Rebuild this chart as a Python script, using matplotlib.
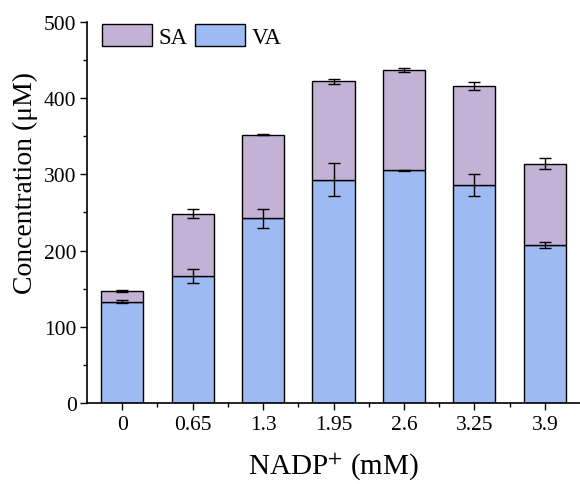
import numpy as np
import matplotlib
matplotlib.use("Agg")
from matplotlib import pyplot as plt
from matplotlib.ticker import MultipleLocator, FixedLocator

plt.rcParams['font.family'] = ['Liberation Serif', 'DejaVu Serif']
plt.rcParams['mathtext.fontset'] = 'stix'

labels = ['0', '0.65', '1.3', '1.95', '2.6', '3.25', '3.9']
va = [133, 167, 242, 293, 305, 286, 207]
va_err = [2, 9, 12, 22, 1, 15, 4]
total = [147, 248, 352, 422, 437, 416, 314]
total_err = [1, 6, 1, 3, 3, 5, 7]
sa = [t - v for t, v in zip(total, va)]

fig = plt.figure(figsize=(5.8, 4.85), dpi=100)
ax = fig.add_axes([0.15, 0.167, 0.85, 0.786])

x = np.arange(len(labels))
w = 0.6
ax.bar(x, va, w, color='#9dbbf2', edgecolor='black', linewidth=1, label='VA', zorder=2)
ax.bar(x, sa, w, bottom=va, color='#c3b2d6', edgecolor='black', linewidth=1, label='SA', zorder=2)
ax.errorbar(x, va, yerr=va_err, fmt='none', ecolor='black', elinewidth=1, capsize=4, capthick=1, zorder=3)
ax.errorbar(x, total, yerr=total_err, fmt='none', ecolor='black', elinewidth=1, capsize=4, capthick=1, zorder=3)

ax.set_xlim(-0.5, 6.5)
ax.set_ylim(0, 500)
ax.set_xticks(x)
ax.set_xticklabels(labels)
ax.xaxis.set_minor_locator(FixedLocator(x[:-1] + 0.5))
ax.yaxis.set_major_locator(MultipleLocator(100))
ax.yaxis.set_minor_locator(MultipleLocator(50))
ax.tick_params(axis='both', which='major', direction='out', length=5, width=1, labelsize=15.5)
ax.tick_params(axis='y', which='major', pad=2.5)
ax.tick_params(axis='both', which='minor', direction='out', length=3, width=1)
ax.spines['top'].set_visible(False)
ax.spines['right'].set_visible(False)
for s in ['left', 'bottom']:
    ax.spines[s].set_linewidth(1.2)

ax.set_xlabel(r'NADP$^{+}$ (mM)', fontsize=21, labelpad=12)
ax.set_ylabel('Concentration (μM)', fontsize=20)
ax.yaxis.set_label_coords(-0.10, 0.58)

h, l = ax.get_legend_handles_labels()
ax.legend(h[::-1], l[::-1], loc='upper left', ncol=2, frameon=False, fontsize=16.5,
          handlelength=2.2, handleheight=1.1, columnspacing=0.3, handletextpad=0.3,
          borderpad=0.1, borderaxespad=0.0, bbox_to_anchor=(0.025, 1.0))

fig.savefig('out.png', dpi=100)
